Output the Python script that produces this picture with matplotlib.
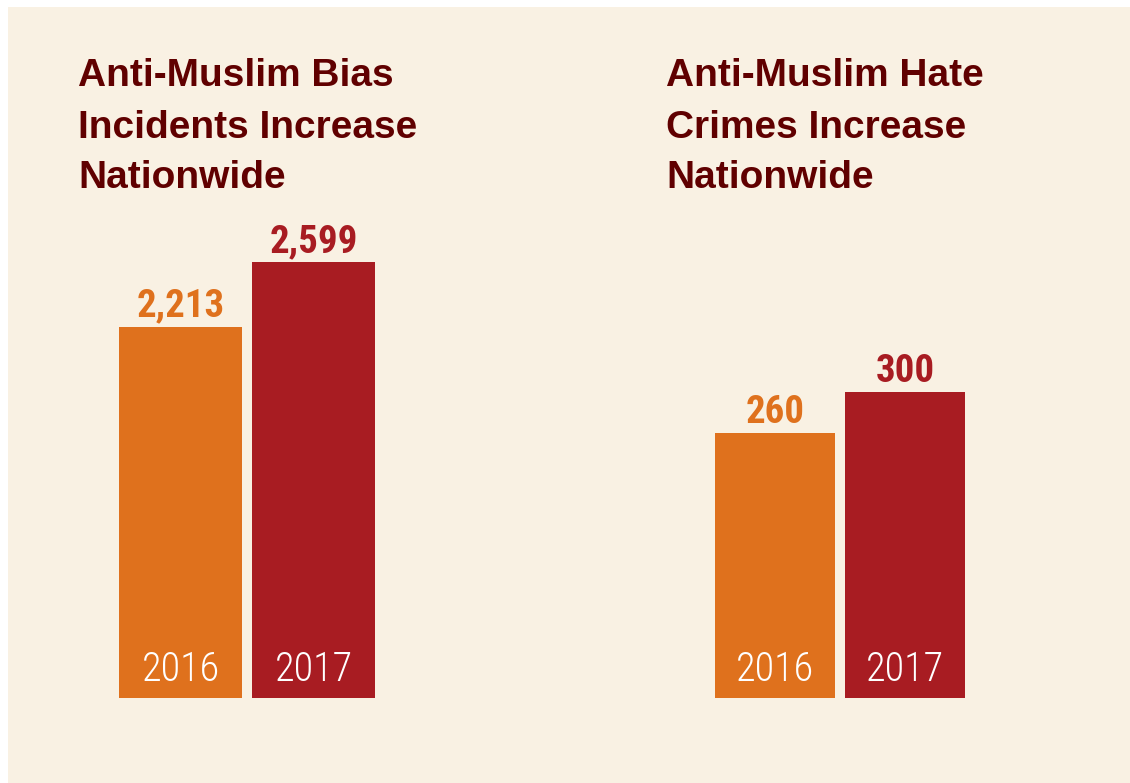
import matplotlib
matplotlib.use("Agg")
import matplotlib.pyplot as plt
from matplotlib import font_manager
from matplotlib.patches import Rectangle

# data
years = ["2016", "2017"]
bias_incidents = [2213, 2599]
hate_crimes = [260, 300]
bias_labels = ["2,213", "2,599"]
crime_labels = ["260", "300"]
titles = [["Anti-Muslim Bias", "Incidents Increase", "Nationwide"],
          ["Anti-Muslim Hate", "Crimes Increase", "Nationwide"]]

BG = "#F9F1E3"
COLORS = ["#DF711D", "#A81C22"]
TITLE_COLOR = "#600000"

# pick a condensed face if one is around
installed = {f.name for f in font_manager.fontManager.ttflist}
NARROW = "Liberation Sans"
for name in ["Roboto Condensed", "Liberation Sans Narrow", "DejaVu Sans Condensed",
             "Open Sans Condensed", "Noto Sans Condensed"]:
    if name in installed:
        NARROW = name
        break
condensed = NARROW != "Liberation Sans"
VAL_SIZE = 28 if condensed else 26
YEAR_SIZE = 29 if condensed else 25

W, H = 1130, 783
fig = plt.figure(figsize=(W / 100, H / 100), dpi=100)
fig.patch.set_facecolor("white")
# cream panel, leaving a thin white edge at top/left
fig.patches.append(Rectangle((8 / W, 0), 1 - 8 / W, 1 - 7 / H, transform=fig.transFigure,
                             facecolor=BG, edgecolor="none", zorder=-10))


def px_axes(x0, x1, ytop, ybot):
    return fig.add_axes([x0 / W, 1 - ybot / H, (x1 - x0) / W, (ybot - ytop) / H])


def panel(ax, values, labels, width):
    xs = range(len(values))
    ax.bar(xs, values, width=width, color=COLORS, linewidth=0)
    ax.set_xlim(-width / 2, len(values) - 1 + width / 2)
    ax.set_ylim(0, max(values))
    ax.axis("off")
    for x, v, lab, yr, c in zip(xs, values, labels, years, COLORS):
        ax.annotate(lab, (x, v), xytext=(0, 7.2), textcoords="offset points",
                    ha="center", va="baseline", fontsize=VAL_SIZE, fontweight="bold",
                    color=c, family=NARROW, annotation_clip=False)
        ax.annotate(yr, (x, 0), xytext=(0, 12.5), textcoords="offset points",
                    ha="center", va="baseline", fontsize=YEAR_SIZE, color="white",
                    family=NARROW, fontweight="light")


ax1 = px_axes(119, 375, 262, 698)
panel(ax1, bias_incidents, bias_labels, 123 / 133)

ax2 = px_axes(715, 965, 392, 698)
panel(ax2, hate_crimes, crime_labels, 120 / 130)

for x, lines in zip([78, 666], titles):
    for y, line in zip([86.5, 138, 188], lines):
        fig.text(x / W, 1 - y / H, line, ha="left", va="baseline", fontsize=28,
                 fontweight="bold", color=TITLE_COLOR, family="Liberation Sans")

fig.savefig("out.png", dpi=100, facecolor=fig.get_facecolor())
